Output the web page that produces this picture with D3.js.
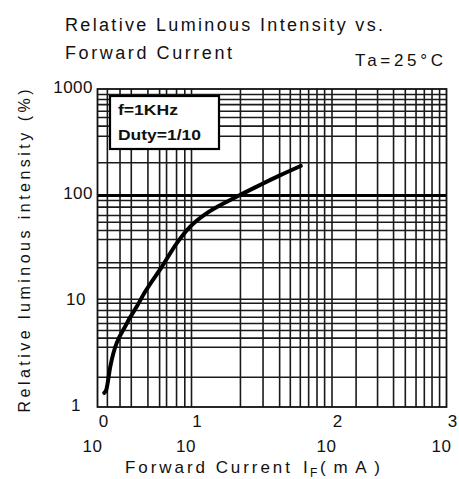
<!DOCTYPE html>
<html>
<head>
<meta charset="utf-8">
<script src="https://cdn.jsdelivr.net/npm/d3@7"></script>
<style>
  html, body { margin: 0; padding: 0; background: #fff; }
  svg { display: block; }
  text { font-family: "Liberation Sans", Arial, sans-serif; fill: #111; }
</style>
</head>
<body>
<svg id="chart" width="459" height="479"></svg>
<script>
// ---- data ----
const titleLines = ["Relative Luminous Intensity vs.", "Forward Current"];
const condition = "Ta=25\u00B0C";
const legendLines = ["f=1KHz", "Duty=1/10"];
const yTitle = "Relative luminous intensity (%)";
const xTitle = "Forward Current";

const xDecades = [1, 10, 100, 1000];
const xExponents = ["0", "1", "2", "3"];
const yDecades = [1, 10, 100, 1000];
const yTickLabels = ["1", "10", "100", "1000"];

// grid lines (mA)
const xGrid = [1.26, 1.72, 2.27, 3.42, 4.56, 5.41, 6.92, 8.48, 10,
               22.3, 32.3, 42.4, 50.5, 59.5, 68.2, 78.2, 88.6, 100,
               162, 249, 343, 434, 538, 635, 741, 862];
// grid lines (%)
const yGrid = [1.93, 3.70, 4.51, 5.33, 6.20, 7.11, 8.22, 9.64, 10.5,
               20.8, 23.2, 38.5, 46.8, 56.0, 64.8, 77.6, 89.7,
               204, 362, 451, 545, 624, 720, 805, 897];
const yMajor = [100];

// curve: forward current (mA) vs relative luminous intensity (%)
const currentMA = [1.18, 1.24, 1.37, 2.06, 2.63, 3.23, 4.87, 7.03, 9.75, 12.9, 17.0, 22.3, 30.9, 42.9, 60.5];
const intensity = [1.36, 1.45, 2.40, 6.16, 8.85, 12.2, 21, 35, 50, 67, 83, 100, 124, 153, 188];

// ---- layout ----
const svg = d3.select("#chart");
const L = 97.5, R = 446.5, T = 89, B = 407;

const x = d3.scaleLog().domain(xDecades).range([L, 191, 331.5, R]);
const y = d3.scaleLog().domain([1, 1000]).range([B, T]);

// grid via axes
const gx = svg.append("g").attr("transform", `translate(0,${B})`)
  .call(d3.axisBottom(x).tickValues(xGrid).tickSize(-(B - T)).tickFormat(""));
gx.select(".domain").remove();
gx.selectAll("line").attr("stroke", "#1a1a1a").attr("stroke-width", 1.6);

const gy = svg.append("g").attr("transform", `translate(${L},0)`)
  .call(d3.axisLeft(y).tickValues(yGrid).tickSize(-(R - L)).tickFormat(""));
gy.select(".domain").remove();
gy.selectAll("line").attr("stroke", "#1a1a1a").attr("stroke-width", 1.6);

const gyM = svg.append("g").attr("transform", `translate(${L},0)`)
  .call(d3.axisLeft(y).tickValues(yMajor).tickSize(-(R - L)).tickFormat(""));
gyM.select(".domain").remove();
gyM.selectAll("line").attr("stroke", "#000").attr("stroke-width", 3);

// frame
svg.append("rect").attr("x", L).attr("y", T).attr("width", R - L).attr("height", B - T)
  .attr("fill", "none").attr("stroke", "#111").attr("stroke-width", 1.8);

// curve
const line = d3.line().x(d => x(d[0])).y(d => y(d[1])).curve(d3.curveMonotoneX);
svg.append("path").datum(currentMA.map((c, i) => [c, intensity[i]]))
  .attr("d", line).attr("fill", "none").attr("stroke", "#000")
  .attr("stroke-width", 4).attr("stroke-linecap", "round");

// legend box
svg.append("rect").attr("x", 110).attr("y", 96).attr("width", 109).attr("height", 53)
  .attr("fill", "#fff").attr("stroke", "#000").attr("stroke-width", 2.2);
svg.append("text").attr("x", 118).attr("y", 115).attr("font-size", 14).attr("font-weight", "bold")
  .attr("textLength", 60).attr("lengthAdjust", "spacingAndGlyphs").text(legendLines[0]);
svg.append("text").attr("x", 118).attr("y", 140).attr("font-size", 14).attr("font-weight", "bold")
  .attr("textLength", 83).attr("lengthAdjust", "spacingAndGlyphs").text(legendLines[1]);

// titles
svg.append("text").attr("x", 65).attr("y", 31).attr("font-size", 18)
  .attr("textLength", 318).attr("lengthAdjust", "spacing").text(titleLines[0]);
svg.append("text").attr("x", 65).attr("y", 59).attr("font-size", 18)
  .attr("textLength", 167).attr("lengthAdjust", "spacing").text(titleLines[1]);
svg.append("text").attr("x", 355).attr("y", 66).attr("font-size", 17)
  .attr("textLength", 88).attr("lengthAdjust", "spacing").text(condition);

// y tick labels
const yLabelRight = [81, 86, 93, 93];
yDecades.forEach((v, i) => {
  svg.append("text").attr("x", yLabelRight[i]).attr("y", y(v) + 4)
    .attr("text-anchor", "end").attr("font-size", 17).attr("letter-spacing", 0.5)
    .text(yTickLabels[i]);
});

// x tick labels (10 with exponent above-right)
xDecades.forEach((v, i) => {
  const px = x(v);
  svg.append("text").attr("x", px - 5).attr("y", 452)
    .attr("text-anchor", "middle").attr("font-size", 17).attr("letter-spacing", 0.5).text("10");
  svg.append("text").attr("x", px + 6).attr("y", 427)
    .attr("text-anchor", "middle").attr("font-size", 17).text(xExponents[i]);
});

// axis titles
svg.append("text").attr("transform", "translate(30,251) rotate(-90)")
  .attr("text-anchor", "middle").attr("font-size", 16)
  .attr("textLength", 323).attr("lengthAdjust", "spacing").text(yTitle);

svg.append("text").attr("x", 125).attr("y", 473).attr("font-size", 17)
  .attr("textLength", 165).attr("lengthAdjust", "spacing").text(xTitle);
svg.append("text").attr("x", 303).attr("y", 473).attr("font-size", 17).text("I");
svg.append("text").attr("x", 310).attr("y", 477).attr("font-size", 12).text("F");
svg.append("text").attr("x", 320).attr("y", 473).attr("font-size", 17)
  .attr("textLength", 60).attr("lengthAdjust", "spacing").text("(mA)");
</script>
</body>
</html>
